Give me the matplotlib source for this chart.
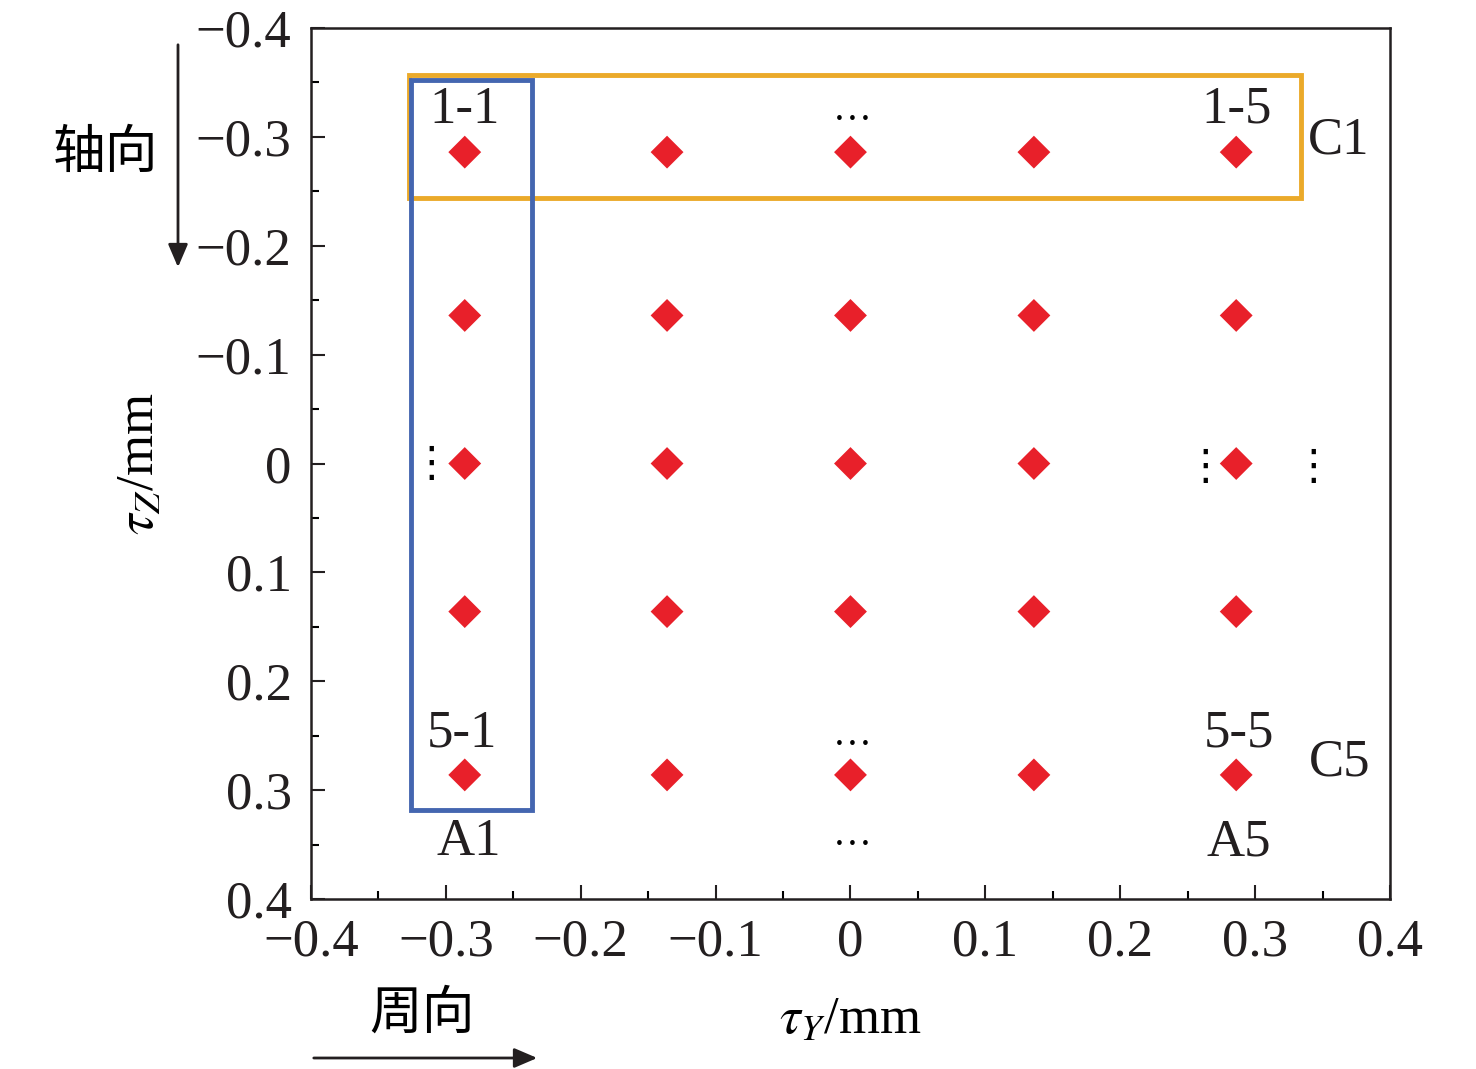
import matplotlib
matplotlib.use("Agg")
import matplotlib.pyplot as plt
from matplotlib.patches import Rectangle, FancyArrowPatch
import numpy as np

plt.rcParams['font.family'] = ['Liberation Serif', 'Noto Sans CJK SC', 'DejaVu Sans']
plt.rcParams['mathtext.fontset'] = 'stix'
plt.rcParams['axes.unicode_minus'] = True

# data
x_pos = [-0.286, -0.136, 0.0, 0.136, 0.286]
y_pos = [-0.286, -0.136, 0.0, 0.136, 0.286]
ticks = [-0.4, -0.3, -0.2, -0.1, 0, 0.1, 0.2, 0.3, 0.4]
tick_labels = ['−0.4', '−0.3', '−0.2', '−0.1', '0', '0.1', '0.2', '0.3', '0.4']
ytick_labels = ['−0.4', '−0.3', '−0.2', '−0.1', '0', '0.1', '0.2', '0.3', '0.4']
point_labels = {'1-1': (-0.286, -0.325), '1-5': (0.286, -0.325),
                '5-1': (-0.288, 0.248), '5-5': (0.288, 0.248),
                'C1': (0.362, -0.297), 'C5': (0.363, 0.275),
                'A1': (-0.283, 0.348), 'A5': (0.288, 0.348)}
yellow_box = (-0.3277, -0.3564, 0.3344, -0.2443)
blue_box = (-0.3262, -0.3518, -0.2358, 0.3178)

fig = plt.figure(figsize=(14.76, 10.69), dpi=100)
ax = fig.add_axes([0.2107, 0.159, 0.9417 - 0.2107, 0.9738 - 0.159])

X, Y = np.meshgrid(x_pos, y_pos)
ax.scatter(X.ravel(), Y.ravel(), marker='D', s=280, color='#E8202A', edgecolors='none', zorder=3)

ax.add_patch(Rectangle((yellow_box[0], yellow_box[1]), yellow_box[2] - yellow_box[0],
                       yellow_box[3] - yellow_box[1], fill=False, edgecolor='#EBAA2A', lw=3.5, zorder=2))
ax.add_patch(Rectangle((blue_box[0], blue_box[1]), blue_box[2] - blue_box[0],
                       blue_box[3] - blue_box[1], fill=False, edgecolor='#4466B0', lw=3.5, zorder=2))

for lab, (px, py) in point_labels.items():
    ax.text(px, py, lab, fontsize=38, ha='center', va='center', color='#231F20')

# ellipses
for (px, py) in [(0.0015, -0.324), (0.0015, 0.25), (0.0015, 0.342)]:
    ax.text(px, py, '…', fontsize=28, ha='center', va='center', color='black')
for (px, py) in [(-0.311, 0.0), (0.263, 0.003), (0.343, 0.003)]:
    ax.text(px, py, '⋮', fontsize=30, ha='center', va='center', color='black',
            family=['DejaVu Sans'])

ax.set_xlim(-0.4, 0.4)
ax.set_ylim(0.4, -0.4)
ax.set_xticks(ticks)
ax.set_xticklabels(tick_labels)
ax.set_yticks(ticks)
ax.set_yticklabels(ytick_labels)
ax.set_xticks(np.arange(-0.35, 0.4, 0.1), minor=True)
ax.set_yticks(np.arange(-0.35, 0.4, 0.1), minor=True)
ax.tick_params(which='major', direction='in', length=10, width=1.5, labelsize=38,
               colors='#231F20')
ax.tick_params(axis='x', which='major', pad=14)
ax.tick_params(axis='y', which='major', pad=14)
ax.tick_params(which='minor', direction='in', length=5.5, width=1.5)
for s in ax.spines.values():
    s.set_linewidth(1.8)
    s.set_color('#231F20')

ax.set_xlabel(r'$\tau_Y$/mm', fontsize=38, labelpad=22)
ax.set_ylabel(r'$\tau_Z$/mm', fontsize=38, labelpad=22)

# direction annotations
fig.text(105 / 1476, 1 - 152 / 1069, '轴向', fontsize=38, ha='center', va='center',
         family=['Noto Sans CJK SC'])
fig.text(422 / 1476, 1 - 1013 / 1069, '周向', fontsize=38, ha='center', va='center',
         family=['Noto Sans CJK SC'])
fig.add_artist(FancyArrowPatch((178 / 1476, 1 - 42 / 1069), (178 / 1476, 1 - 270 / 1069),
                               transform=fig.transFigure, arrowstyle='-|>,head_length=0.7,head_width=0.3',
                               mutation_scale=20, lw=2, color='#231F20'))
fig.add_artist(FancyArrowPatch((311 / 1476, 1 - 1058 / 1069), (540 / 1476, 1 - 1058 / 1069),
                               transform=fig.transFigure, arrowstyle='-|>,head_length=0.7,head_width=0.3',
                               mutation_scale=20, lw=2, color='#231F20'))

fig.savefig('out.png', dpi=100)
